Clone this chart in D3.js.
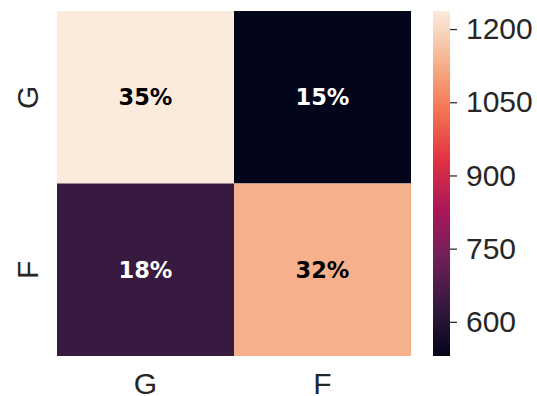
<!DOCTYPE html>
<html>
<head>
<meta charset="utf-8">
<script src="https://cdn.jsdelivr.net/npm/d3@7"></script>
<style>
  html, body { margin: 0; padding: 0; background: #fff; }
  svg { display: block; }
</style>
</head>
<body>
<svg id="chart" width="537" height="396"></svg>
<script>
// Confusion-matrix counts (rows = actual, columns = predicted)
const rowLabels = ["G", "F"];
const colLabels = ["G", "F"];
const counts = [
  [1237, 530],
  [636, 1131]
];
const colorbarTicks = [600, 750, 900, 1050, 1200];

// "rocket" colour map stops
const rocketStops = ["#03051a", "#35193e", "#701f57", "#ad1759", "#e13342", "#f37651", "#f6b48f", "#faebdd"];

const svg = d3.select("#chart");
const plot = { left: 57, top: 11, right: 411, bottom: 356 };
const cbar = { left: 433, right: 450 };
const textColor = "#262626";
const labelFont = "'Liberation Sans', Arial, sans-serif";
const labelSize = "30px";

const flat = counts.flat();
const total = d3.sum(flat);
const vmin = d3.min(flat), vmax = d3.max(flat);

const rocket = d3.scaleLinear()
  .domain(d3.range(rocketStops.length).map(i => i / (rocketStops.length - 1)))
  .range(rocketStops)
  .interpolate(d3.interpolateRgb);
const norm = d3.scaleLinear().domain([vmin, vmax]).range([0, 1]).clamp(true);
const color = v => rocket(norm(v));

const x = d3.scaleBand().domain(colLabels.map((d, i) => i)).range([plot.left, plot.right]);
const y = d3.scaleBand().domain(rowLabels.map((d, i) => i)).range([plot.top, plot.bottom]);

const cells = [];
counts.forEach((row, r) => row.forEach((v, c) => cells.push({ r, c, v })));

svg.append("g").selectAll("rect").data(cells).join("rect")
  .attr("x", d => x(d.c))
  .attr("y", d => y(d.r))
  .attr("width", x.bandwidth())
  .attr("height", y.bandwidth())
  .attr("fill", d => color(d.v));

// Annotations: share of total, dark text on light cells
svg.append("g").selectAll("text").data(cells).join("text")
  .attr("x", d => x(d.c) + x.bandwidth() / 2)
  .attr("y", d => y(d.r) + y.bandwidth() / 2)
  .attr("dy", "0.36em")
  .attr("text-anchor", "middle")
  .attr("font-family", "'DejaVu Sans', sans-serif")
  .attr("font-weight", "bold")
  .attr("font-size", "22.5px")
  .attr("fill", d => {
    const c = d3.rgb(color(d.v));
    const lum = 0.2126 * c.r + 0.7152 * c.g + 0.0722 * c.b;
    return lum > 100 ? "#000" : "#fff";
  })
  .text(d => d3.format(".0%")(d.v / total));

// Axis labels (no tick marks)
svg.append("g").selectAll("text").data(colLabels).join("text")
  .attr("x", (d, i) => x(i) + x.bandwidth() / 2)
  .attr("y", 393.5)
  .attr("text-anchor", "middle")
  .attr("font-family", labelFont)
  .attr("font-size", labelSize)
  .attr("fill", textColor)
  .text(d => d);

svg.append("g").selectAll("text").data(rowLabels).join("text")
  .attr("transform", (d, i) => `translate(37.5,${y(i) + y.bandwidth() / 2}) rotate(-90)`)
  .attr("text-anchor", "middle")
  .attr("font-family", labelFont)
  .attr("font-size", labelSize)
  .attr("fill", textColor)
  .text(d => d);

// Colour bar
const defs = svg.append("defs");
const grad = defs.append("linearGradient")
  .attr("id", "cbar-grad")
  .attr("x1", 0).attr("y1", 1).attr("x2", 0).attr("y2", 0);
rocketStops.forEach((c, i) => {
  grad.append("stop")
    .attr("offset", i / (rocketStops.length - 1))
    .attr("stop-color", c);
});
svg.append("rect")
  .attr("x", cbar.left)
  .attr("y", plot.top)
  .attr("width", cbar.right - cbar.left)
  .attr("height", plot.bottom - plot.top)
  .attr("fill", "url(#cbar-grad)");

const cy = d3.scaleLinear().domain([vmin, vmax]).range([plot.bottom, plot.top]);
const cAxis = svg.append("g")
  .attr("transform", `translate(${cbar.right},0)`)
  .call(d3.axisRight(cy).tickValues(colorbarTicks).tickSize(7).tickPadding(9).tickFormat(d3.format("d")));
cAxis.select(".domain").remove();
cAxis.selectAll(".tick line").attr("stroke", textColor).attr("stroke-width", 1.25);
cAxis.selectAll(".tick text")
  .attr("font-family", labelFont)
  .attr("font-size", labelSize)
  .attr("fill", textColor);
</script>
</body>
</html>
